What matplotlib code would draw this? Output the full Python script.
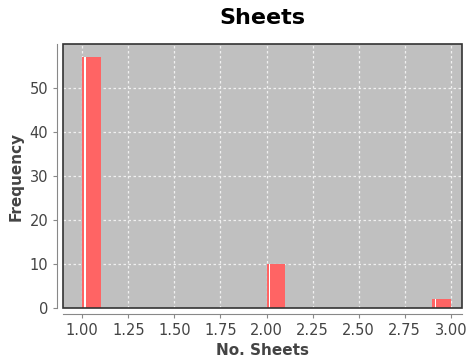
import matplotlib.pyplot as plt
from matplotlib.patches import Rectangle

# histogram bins (left edge) and counts
bin_left = [1.0, 2.0, 2.9]
counts = [57, 10, 2]
bin_width = 0.1

x_ticks = [1.00, 1.25, 1.50, 1.75, 2.00, 2.25, 2.50, 2.75, 3.00]
y_ticks = [0, 10, 20, 30, 40, 50]

fig = plt.figure(figsize=(4.66, 3.6), dpi=100)
ax = fig.add_axes([0.135, 0.144, 0.856, 0.734])
ax.set_facecolor('#c0c0c0')

ax.bar(bin_left, counts, width=bin_width, align='edge', color='#ff6464',
       edgecolor='none', zorder=3)
# thin white highlight near the left edge of each bar
ax.bar([b + 0.012 for b in bin_left], counts, width=0.006, align='edge',
       color='white', edgecolor='none', zorder=4)

ax.set_xlim(0.895, 3.06)
ax.set_ylim(0, 60)
ax.set_xticks(x_ticks)
ax.set_xticklabels([f'{t:.2f}' for t in x_ticks])
ax.set_yticks(y_ticks)
ax.grid(True, color='#f0f0f0', linestyle=(0, (2, 2)), linewidth=0.9, zorder=1)

for s in ['left', 'bottom']:
    ax.spines[s].set_position(('outward', 4))
    ax.spines[s].set_color('#888888')
for s in ['top', 'right']:
    ax.spines[s].set_visible(False)
ax.add_patch(Rectangle((0, 0), 1, 1, transform=ax.transAxes, fill=False,
                       edgecolor='#333333', linewidth=1.2, zorder=5, clip_on=False))

ax.tick_params(colors='#888888', labelcolor='#444444', labelsize=10.5, length=3)

ax.set_title('Sheets', fontsize=16, fontweight='bold', pad=14)
ax.set_xlabel('No. Sheets', fontsize=11, fontweight='bold', color='#444444')
ax.set_ylabel('Frequency', fontsize=11, fontweight='bold', color='#444444')

fig.savefig('out.png', dpi=100)
